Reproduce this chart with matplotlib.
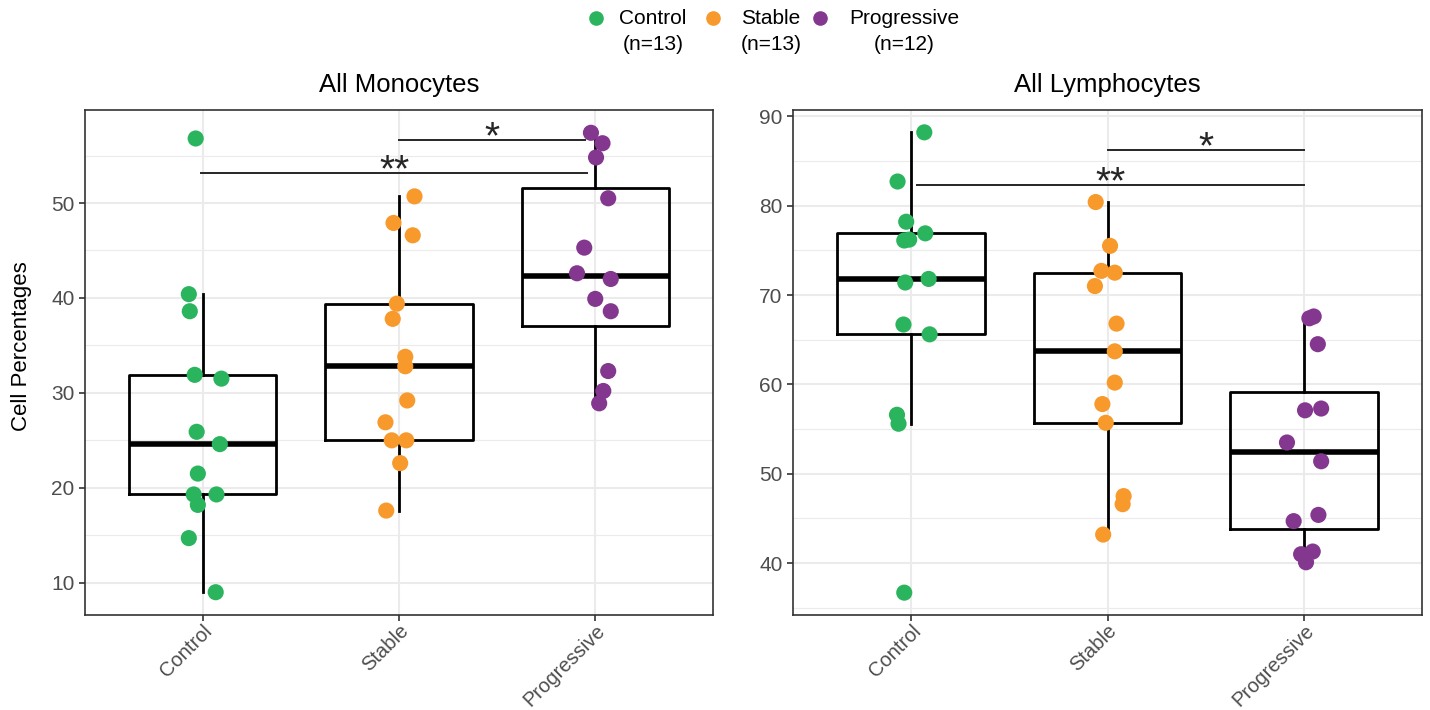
import matplotlib
matplotlib.use("Agg")
import matplotlib.pyplot as plt
from matplotlib.lines import Line2D
from matplotlib.ticker import MultipleLocator
import numpy as np

plt.rcParams['font.family'] = ['Liberation Sans', 'DejaVu Sans']

groups = ["Control", "Stable", "Progressive"]
group_colors = ["#2BB45E", "#F7992B", "#84378F"]
group_n = [13, 13, 12]

# All Monocytes + horizontal jitter offsets
mono_control = [56.8, 40.4, 38.6, 31.9, 31.5, 25.9, 24.6, 21.5, 19.3, 19.3, 18.2, 14.7, 9.0]
mono_control_jit = [-0.036, -0.071, -0.066, -0.041, 0.095, -0.031, 0.087, -0.025, -0.046, 0.070, -0.025, -0.071, 0.066]
mono_stable = [50.7, 47.9, 46.6, 39.4, 37.8, 33.8, 32.8, 29.2, 26.9, 25.0, 25.0, 22.6, 17.6]
mono_stable_jit = [0.079, -0.028, 0.070, -0.011, -0.032, 0.032, 0.032, 0.042, -0.069, -0.037, 0.037, 0.006, -0.065]
mono_prog = [57.4, 56.3, 54.8, 50.5, 45.3, 42.6, 42.0, 39.9, 38.6, 32.3, 30.2, 28.9]
mono_prog_jit = [-0.022, 0.037, 0.004, 0.066, -0.056, -0.093, 0.079, 0.0, 0.079, 0.066, 0.041, 0.020]

# All Lymphocytes
lymph_control = [88.2, 82.7, 78.2, 76.9, 76.1, 76.2, 71.4, 71.8, 66.7, 65.6, 56.6, 55.6, 36.7]
lymph_control_jit = [0.068, -0.068, -0.024, 0.073, -0.034, -0.009, -0.029, 0.090, -0.038, 0.095, -0.071, -0.063, -0.034]
lymph_stable = [80.4, 75.5, 72.7, 72.5, 71.0, 66.8, 63.7, 60.2, 57.8, 55.7, 47.5, 46.6, 43.2]
lymph_stable_jit = [-0.060, 0.013, -0.031, 0.037, -0.064, 0.046, 0.037, 0.037, -0.026, -0.009, 0.082, 0.077, -0.022]
lymph_prog = [67.4, 67.6, 64.5, 57.1, 57.3, 53.5, 51.4, 45.4, 44.7, 41.0, 41.3, 40.1]
lymph_prog_jit = [0.027, 0.049, 0.070, 0.005, 0.087, -0.087, 0.087, 0.073, -0.053, -0.015, 0.044, 0.010]

# significance brackets: (x start, x end, y, label)
mono_sig = [(0.99, 2.96, 53.2, "**"), (2.0, 2.95, 56.6, "*")]
lymph_sig = [(1.03, 3.0, 82.3, "**"), (2.0, 3.0, 86.2, "*")]

fig = plt.figure(figsize=(14.3, 7.1), dpi=100)
ax1 = fig.add_axes([85/1430, 1-615/710, 628/1430, 505/710])
ax2 = fig.add_axes([793/1430, 1-615/710, 629/1430, 505/710])

panels = [
    (ax1, "All Monocytes", [mono_control, mono_stable, mono_prog],
     [mono_control_jit, mono_stable_jit, mono_prog_jit], mono_sig, (6.6, 59.8)),
    (ax2, "All Lymphocytes", [lymph_control, lymph_stable, lymph_prog],
     [lymph_control_jit, lymph_stable_jit, lymph_prog_jit], lymph_sig, (34.2, 90.7)),
]

for ax, title, data, jits, sig, ylim in panels:
    ax.boxplot(data, positions=[1, 2, 3], widths=0.75, showfliers=False, whis=1.5,
               boxprops=dict(color="black", linewidth=2.0),
               medianprops=dict(color="black", linewidth=4.0, solid_capstyle="butt"),
               whiskerprops=dict(color="black", linewidth=2.0),
               capprops=dict(visible=False), zorder=3)
    for i, (vals, jit) in enumerate(zip(data, jits)):
        ax.scatter(np.array(jit) + i + 1, vals, s=135, color=group_colors[i],
                   edgecolors="none", zorder=4)
    for x0, x1, y, lab in sig:
        ax.plot([x0, x1], [y, y], color="#262626", lw=1.4, zorder=5)
        ax.annotate(lab, xy=((x0 + x1) / 2, y), xytext=(0, -6), textcoords="offset points",
                    ha="center", va="baseline", fontsize=28, color="#262626", zorder=5)
    ax.set_xlim(0.4, 3.6)
    ax.set_ylim(*ylim)
    ax.set_xticks([1, 2, 3])
    ax.set_xticklabels(groups, rotation=45, ha="right", rotation_mode="anchor")
    ax.yaxis.set_major_locator(MultipleLocator(10))
    ax.yaxis.set_minor_locator(MultipleLocator(5))
    ax.grid(which="major", color="#EBEBEB", lw=1.5, zorder=0)
    ax.grid(which="minor", axis="y", color="#EBEBEB", lw=0.8, zorder=0)
    ax.set_axisbelow(True)
    ax.tick_params(axis="both", which="major", labelsize=15, labelcolor="#4D4D4D",
                   color="#333333", length=4, width=1.2)
    ax.tick_params(axis="x", which="major", labelsize=14.5, pad=0.5)
    ax.tick_params(axis="y", which="minor", length=0)
    for sp in ax.spines.values():
        sp.set_color("#333333")
        sp.set_linewidth(1.2)
    ax.set_title(title, fontsize=18.5, pad=13)

ax1.set_ylabel("Cell Percentages", fontsize=16)
ax1.yaxis.set_label_coords(-0.084, 0.533)

# legend across the top
leg_marker_x = [596, 713, 820]
leg_text_x = [653, 771, 904]
for i, g in enumerate(groups):
    fig.add_artist(Line2D([leg_marker_x[i] / 1430], [1 - 18 / 710], marker="o",
                          markersize=9.5, color=group_colors[i], lw=0,
                          transform=fig.transFigure))
    fig.text(leg_text_x[i] / 1430, 1 - 18 / 710, g, ha="center", va="center", fontsize=15)
    fig.text(leg_text_x[i] / 1430, 1 - 45 / 710, f"(n={group_n[i]})", ha="center",
             va="center", fontsize=15)

fig.savefig("out.png", dpi=100)
